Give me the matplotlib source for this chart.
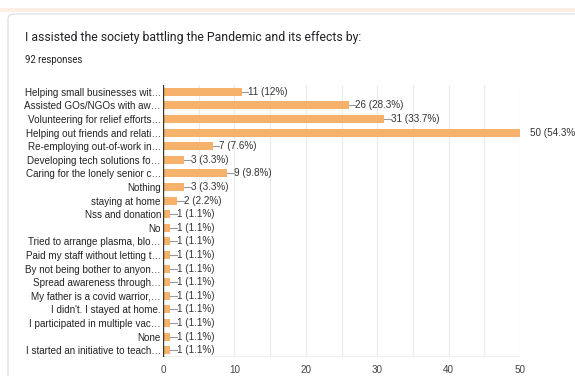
import matplotlib
matplotlib.use("Agg")
import matplotlib.pyplot as plt
from matplotlib.patches import FancyBboxPatch, Rectangle

title = "I assisted the society battling the Pandemic and its effects by:"
n_responses = 92
labels = ["Helping small businesses wit\u2026", "Assisted GOs/NGOs with aw\u2026",
          "Volunteering for relief efforts\u2026", "Helping out friends and relati\u2026",
          "Re-employing out-of-work in\u2026", "Developing tech solutions fo\u2026",
          "Caring for the lonely senior c\u2026", "Nothing", "staying at home",
          "Nss and donation", "No", "Tried to arrange plasma, blo\u2026",
          "Paid my staff without letting t\u2026", "By not being bother to anyon\u2026",
          "Spread awareness through\u2026", "My father is a covid warrior,\u2026",
          "I didn't. I stayed at home.", "I participated in multiple vac\u2026",
          "None", "I started an initiative to teach\u2026"]
counts = [11, 26, 31, 50, 7, 3, 9, 3, 2, 1, 1, 1, 1, 1, 1, 1, 1, 1, 1, 1]
pcts = ["12%", "28.3%", "33.7%", "54.3%", "7.6%", "3.3%", "9.8%", "3.3%", "2.2%",
        "1.1%", "1.1%", "1.1%", "1.1%", "1.1%", "1.1%", "1.1%", "1.1%", "1.1%",
        "1.1%", "1.1%"]
xticks = [0, 10, 20, 30, 40, 50]

W, H = 575, 376
FS = 7.1
fig = plt.figure(figsize=(W / 100, H / 100), dpi=100)
fig.patch.set_facecolor("white")

# card background + top tint strip
fig.patches.append(Rectangle((0, 1 - 12 / H), 1, 4 / H, transform=fig.transFigure,
                             facecolor="#fcefe3", edgecolor="none", zorder=-2))
fig.patches.append(FancyBboxPatch((8 / W, -0.05), 1.2, 1 - 14 / H + 0.05,
                                  boxstyle="round,pad=0,rounding_size=0.012",
                                  transform=fig.transFigure, facecolor="white",
                                  edgecolor="#dadce0", linewidth=0.8, zorder=-1))

fig.text(25 / W, 1 - 37 / H, title, fontsize=8.8, color="#202124",
         family="Roboto", va="center", ha="left")
fig.text(25 / W, 1 - 60 / H, f"{n_responses} responses", fontsize=6.9,
         color="#202124", family="Roboto", va="center", ha="left")

ax = fig.add_axes([163 / W, 1 - 357 / H, (520 - 163) / W, (357 - 85) / H])
ax.set_zorder(2)
ax.set_facecolor("none")
y = list(range(len(labels)))
ax.barh(y, counts, height=0.58, color="#f6b26b", edgecolor="none", zorder=2)
ax.set_xlim(0, 50)
ax.set_ylim(len(labels) - 0.5, -0.5)

for v in range(5, 51, 5):
    ax.axvline(v, color="#ebebeb", linewidth=0.8, zorder=0)
ax.axhline(len(labels) - 0.5, color="#ebebeb", linewidth=1.2, zorder=1)
ax.axvline(0, color="#333333", linewidth=1.0, zorder=3)

for yi, c, p in zip(y, counts, pcts):
    txt = f"{c} ({p})"
    if c >= 50:
        ax.text(c + 1.4, yi, txt, va="center", ha="left", fontsize=FS,
                color="#333333", family="Liberation Sans", clip_on=False)
    else:
        ax.plot([c, c + 0.9], [yi, yi], color="#999999", linewidth=0.8, zorder=3)
        ax.text(c + 0.9, yi, txt, va="center", ha="left", fontsize=FS,
                color="#333333", family="Liberation Sans")

ax.set_yticks(y)
ax.set_yticklabels(labels, fontsize=FS, color="#222222", family="Liberation Sans")
ax.set_xticks(xticks)
ax.set_xticklabels([str(t) for t in xticks], fontsize=FS, color="#444444",
                   family="Liberation Sans")
ax.tick_params(axis="both", length=0)
ax.tick_params(axis="y", pad=1.5)
ax.tick_params(axis="x", pad=6)
for s in ax.spines.values():
    s.set_visible(False)

fig.savefig("out.png", dpi=100)
